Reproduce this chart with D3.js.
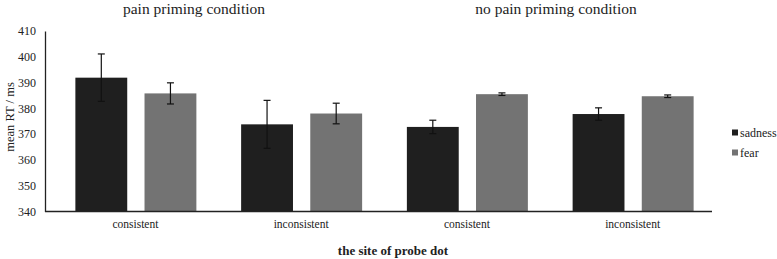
<!DOCTYPE html>
<html lang="en">
<head>
  <meta charset="UTF-8">
  <title>mean RT by probe site</title>
  <script src="https://d3js.org/d3.v7.min.js"></script>
  <style>
    body { margin: 0; background: #fff; }
    text { font-family: "Liberation Serif", "DejaVu Serif", serif; fill: #222; }
  </style>
</head>
<body>
  <svg id="chart"></svg>
  <script>
    // data
    const groups = ["pain-consistent", "pain-inconsistent", "nopain-consistent", "nopain-inconsistent"];
    const groupLabels = ["consistent", "inconsistent", "consistent", "inconsistent"];
    const series = ["sadness", "fear"];
    const sadness = [391.9, 373.8, 372.8, 377.8];
    const sadnessErr = [9.2, 9.3, 2.6, 2.4];
    const fear = [385.8, 378.0, 385.5, 384.7];
    const fearErr = [4.1, 4.0, 0.5, 0.5];
    const panels = ["pain priming condition", "no pain priming condition"];
    const yTicks = [340, 350, 360, 370, 380, 390, 400, 410];
    const colors = ["#1f1f1f", "#737373"];

    const width = 777, height = 259;
    const margin = { top: 31, right: 65, bottom: 47, left: 45 };

    const svg = d3.select("#chart")
      .attr("width", width)
      .attr("height", height);

    const x = d3.scaleBand()
      .domain(groups)
      .range([margin.left + 7.5, width - margin.right + 3.5])
      .paddingInner(0)
      .paddingOuter(0);

    const x1 = d3.scaleBand()
      .domain(series)
      .range([x.bandwidth() / 2 - 60, x.bandwidth() / 2 + 61])
      .paddingInner(0.25);

    const y = d3.scaleLinear()
      .domain([340, 410])
      .range([height - margin.bottom - 0.5, margin.top]);

    const rows = groups.map((g, i) => ({
      group: g,
      vals: [
        { s: "sadness", v: sadness[i], e: sadnessErr[i] },
        { s: "fear", v: fear[i], e: fearErr[i] }
      ]
    }));

    const g = svg.selectAll("g.grp")
      .data(rows)
      .enter()
      .append("g")
      .attr("class", "grp")
      .attr("transform", d => `translate(${x(d.group)},0)`);

    g.selectAll("rect")
      .data(d => d.vals)
      .enter()
      .append("rect")
      .attr("x", d => x1(d.s))
      .attr("width", x1.bandwidth())
      .attr("y", d => y(d.v))
      .attr("height", d => y(340) - y(d.v))
      .attr("fill", (d, i) => colors[i]);

    // error bars
    const eb = g.selectAll("g.err")
      .data(d => d.vals)
      .enter()
      .append("g")
      .attr("class", "err")
      .attr("stroke", "#111")
      .attr("stroke-width", 1.2);

    eb.append("line")
      .attr("x1", d => x1(d.s) + x1.bandwidth() / 2)
      .attr("x2", d => x1(d.s) + x1.bandwidth() / 2)
      .attr("y1", d => y(d.v - d.e))
      .attr("y2", d => y(d.v + d.e));

    eb.selectAll("line.cap")
      .data(d => [d.v - d.e, d.v + d.e].map(t => ({ s: d.s, t })))
      .enter()
      .append("line")
      .attr("class", "cap")
      .attr("x1", d => x1(d.s) + x1.bandwidth() / 2 - 3.5)
      .attr("x2", d => x1(d.s) + x1.bandwidth() / 2 + 3.5)
      .attr("y1", d => y(d.t))
      .attr("y2", d => y(d.t));

    // axes
    const yAxis = svg.append("g")
      .attr("transform", `translate(${margin.left},0)`)
      .call(d3.axisLeft(y).tickValues(yTicks).tickSize(0).tickPadding(9));
    yAxis.select(".domain").attr("stroke", "#222").attr("stroke-width", 1.3);
    yAxis.selectAll("text")
      .attr("font-size", 12)
      .attr("font-family", "Liberation Serif")
      .attr("fill", "#222");

    const xAxis = svg.append("g")
      .attr("transform", `translate(0,${y(340)})`)
      .call(d3.axisBottom(x).tickSize(0).tickPadding(8)
        .tickFormat((d, i) => groupLabels[i]));
    xAxis.select(".domain")
      .attr("d", `M${margin.left},0H${width - margin.right}`)
      .attr("stroke", "#222").attr("stroke-width", 1.3);
    xAxis.selectAll("text")
      .attr("font-size", 11.5)
      .attr("font-family", "Liberation Serif")
      .attr("fill", "#222");

    // panel titles
    svg.selectAll("text.panel")
      .data(panels)
      .enter()
      .append("text")
      .attr("class", "panel")
      .attr("x", (d, i) => i === 0 ? 194 : 556)
      .attr("y", 14)
      .attr("text-anchor", "middle")
      .attr("font-size", 15.5)
      .text(d => d);

    svg.append("text")
      .attr("transform", "rotate(-90)")
      .attr("x", -117)
      .attr("y", 14)
      .attr("text-anchor", "middle")
      .attr("font-size", 12.5)
      .text("mean RT / ms");

    svg.append("text")
      .attr("x", 393)
      .attr("y", 255)
      .attr("text-anchor", "middle")
      .attr("font-size", 13)
      .attr("font-weight", "bold")
      .text("the site of probe dot");

    // legend
    const legend = svg.selectAll("g.leg")
      .data(series)
      .enter()
      .append("g")
      .attr("class", "leg")
      .attr("transform", (d, i) => `translate(732,${133 + i * 20})`);
    legend.append("rect")
      .attr("y", -3.5)
      .attr("width", 6)
      .attr("height", 6)
      .attr("fill", (d, i) => colors[i]);
    legend.append("text")
      .attr("x", 8)
      .attr("y", 4)
      .attr("font-size", 12)
      .text(d => d);
  </script>
</body>
</html>
